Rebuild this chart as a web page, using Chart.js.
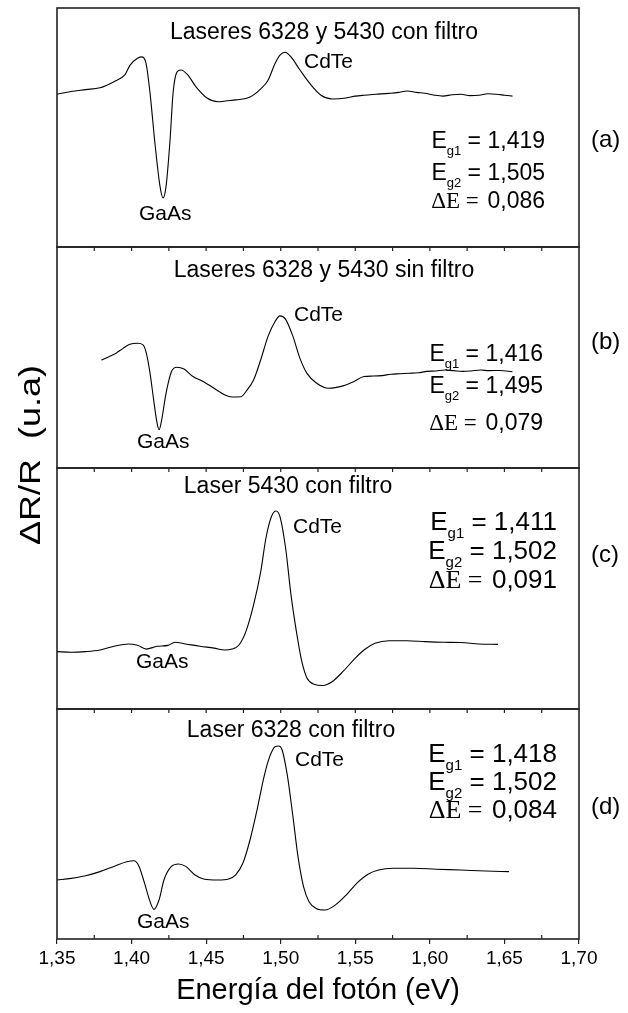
<!DOCTYPE html>
<html>
<head>
<meta charset="utf-8">
<script src="https://cdn.jsdelivr.net/npm/chart.js@4.4.1/dist/chart.umd.min.js"></script>
<style>
  html, body { margin: 0; padding: 0; background: #fff; }
  #figura { position: relative; width: 628px; height: 1013px; }
  #figura canvas { position: absolute; left: 0; top: 0; }
</style>
</head>
<body>
<div id="figura">
  <canvas id="panelA" width="628" height="1013"></canvas>
  <canvas id="panelB" width="628" height="1013"></canvas>
  <canvas id="panelC" width="628" height="1013"></canvas>
  <canvas id="panelD" width="628" height="1013"></canvas>
</div>
<script>
// Espectros de fotorreflectancia: energía (eV) y ΔR/R (u.a.)
const energiaA = [1.350, 1.3594, 1.3694, 1.3788, 1.3882, 1.3956, 1.3989, 1.4040, 1.4070, 1.4097, 1.4124, 1.4157, 1.4191, 1.4211, 1.4231, 1.4258, 1.4278, 1.4305, 1.4331, 1.4375, 1.4432, 1.4506, 1.4580, 1.4640, 1.4700, 1.4794, 1.4868, 1.4915, 1.4962, 1.4995, 1.5029, 1.5069, 1.5129, 1.5203, 1.5270, 1.5344, 1.5438, 1.5500, 1.5559, 1.5640, 1.5726, 1.5790, 1.5847, 1.5910, 1.5967, 1.6030, 1.6088, 1.6150, 1.6209, 1.6270, 1.6330, 1.6390, 1.6444, 1.6500, 1.6554];
const senalA = [0.0, 0.3, 0.5, 0.7, 1.35, 2.1, 3.1, 3.85, 4.0, 3.3, 0.1, -5.3, -9.9, -11.1, -9.9, -4.9, 0.1, 2.4, 2.6, 2.1, 0.8, -0.4, -0.8, -0.7, -0.6, -0.3, 0.6, 1.5, 3.3, 4.2, 4.5, 4.0, 2.6, 1.0, -0.1, -0.5, -0.4, -0.2, -0.1, 0.0, 0.1, 0.2, 0.35, 0.2, 0.1, -0.1, -0.2, -0.05, 0.0, -0.15, -0.1, 0.05, 0.0, -0.1, -0.2];

const energiaB = [1.3797, 1.3849, 1.3896, 1.3943, 1.3989, 1.4040, 1.4077, 1.4099, 1.4124, 1.4148, 1.4171, 1.4184, 1.4200, 1.4231, 1.4267, 1.4303, 1.4352, 1.4412, 1.4483, 1.4553, 1.4626, 1.4673, 1.4734, 1.4767, 1.4818, 1.4866, 1.4915, 1.4962, 1.4995, 1.5033, 1.5082, 1.5129, 1.5176, 1.5237, 1.5321, 1.5418, 1.5489, 1.5558, 1.5620, 1.5679, 1.5740, 1.5800, 1.5860, 1.5921, 1.5980, 1.6041, 1.6100, 1.6159, 1.6220, 1.6276, 1.6340, 1.6397, 1.6470, 1.6554];
const senalB = [1.17, 1.53, 1.9, 2.42, 2.85, 2.96, 2.8, 1.9, -0.26, -3.1, -5.6, -6.3, -5.4, -2.4, -0.08, 0.4, 0.2, -0.6, -1.15, -1.86, -2.58, -2.8, -2.76, -2.2, -0.97, 1.2, 3.7, 5.3, 5.9, 5.53, 3.7, 1.35, -0.26, -1.26, -1.86, -1.6, -1.15, -0.6, -0.55, -0.5, -0.35, -0.3, -0.25, -0.2, -0.05, 0.0, 0.1, 0.03, -0.05, 0.0, 0.1, 0.03, 0.05, -0.08];

const energiaC = [1.350, 1.3594, 1.3692, 1.3788, 1.3882, 1.3980, 1.4040, 1.4099, 1.4171, 1.4244, 1.4291, 1.4363, 1.4459, 1.4553, 1.4626, 1.4673, 1.4720, 1.4767, 1.4818, 1.4866, 1.4901, 1.4938, 1.4968, 1.4995, 1.5033, 1.5069, 1.5105, 1.5141, 1.5176, 1.5223, 1.5284, 1.5344, 1.5418, 1.5489, 1.5558, 1.5632, 1.5726, 1.5847, 1.5967, 1.6088, 1.6209, 1.6327, 1.6457];
const senalC = [-0.57, -0.64, -0.57, -0.4, 0.0, 0.25, 0.1, -0.3, 0.0, 0.1, 0.43, 0.25, 0.0, -0.2, -0.4, -0.3, 0.14, 1.6, 4.43, 8.0, 11.6, 13.9, 14.5, 13.9, 10.5, 5.5, 1.6, -1.6, -3.4, -4.07, -4.2, -3.8, -2.7, -1.46, -0.4, 0.32, 0.6, 0.6, 0.5, 0.43, 0.4, 0.25, 0.2];

const energiaD = [1.350, 1.3594, 1.3692, 1.3788, 1.3882, 1.3968, 1.4016, 1.4050, 1.4087, 1.4124, 1.4150, 1.4184, 1.4217, 1.4267, 1.4315, 1.4363, 1.4423, 1.4483, 1.4580, 1.4651, 1.4698, 1.4746, 1.4794, 1.4841, 1.4888, 1.4926, 1.4962, 1.4986, 1.5009, 1.5046, 1.5082, 1.5116, 1.5153, 1.5190, 1.5237, 1.5297, 1.5369, 1.5440, 1.5511, 1.5585, 1.5656, 1.5752, 1.5894, 1.6040, 1.6207, 1.6375, 1.6531];
const senalD = [-0.96, -0.78, -0.5, -0.06, 0.5, 1.0, 1.1, 0.5, -1.3, -3.28, -4.1, -3.1, -0.96, 0.5, 0.76, 0.5, -0.4, -0.85, -0.96, -0.85, -0.4, 0.83, 3.33, 6.54, 10.1, 12.26, 13.33, 13.4, 13.0, 10.1, 5.83, 1.54, -1.67, -3.28, -4.0, -4.17, -3.6, -2.56, -1.3, -0.35, 0.11, 0.3, 0.3, 0.2, 0.11, 0.0, -0.06];

// Eje de energía
const ticksEnergia = [1.35, 1.40, 1.45, 1.50, 1.55, 1.60, 1.65, 1.70];
const etiquetasEnergia = ['1,35', '1,40', '1,45', '1,50', '1,55', '1,60', '1,65', '1,70'];
const ticksMenores = [1.375, 1.425, 1.475, 1.525, 1.575, 1.625, 1.675];
const ticksSuperiores = ticksMenores.concat(ticksEnergia.slice(1, -1));

// Energías de transición de cada espectro
const gapsA = ['1,419', '1,505', '0,086'];
const gapsB = ['1,416', '1,495', '0,079'];
const gapsC = ['1,411', '1,502', '0,091'];
const gapsD = ['1,418', '1,502', '0,084'];

const SANS = "'Liberation Sans', Arial, sans-serif";
const SERIF = "'Liberation Serif', 'Times New Roman', serif";

function texto(ctx, t, x, y, font, align) {
  ctx.font = font;
  ctx.textAlign = align;
  ctx.textBaseline = 'alphabetic';
  ctx.fillText(t, x, y);
}

// dibuja una fila formada por trozos de texto, alineada a la derecha
function fila(ctx, partes, xDer, y) {
  let ancho = 0;
  partes.forEach(p => {
    ctx.font = p.font;
    p.w = ctx.measureText(p.t).width + (p.sep || 0);
    ancho += p.w;
  });
  ctx.textBaseline = 'alphabetic';
  ctx.textAlign = 'left';
  let x = xDer - ancho;
  partes.forEach(p => {
    ctx.font = p.font;
    ctx.fillText(p.t, x, y + (p.dy || 0));
    x += p.w;
  });
}

const marcoPanel = {
  id: 'marcoPanel',
  afterDatasetsDraw(chart, args, o) {
    const { ctx, chartArea: ca, scales: { x } } = chart;
    ctx.save();
    ctx.strokeStyle = '#222';
    ctx.lineWidth = 1.6;
    ctx.strokeRect(ca.left, ca.top, ca.right - ca.left, ca.bottom - ca.top);
    ctx.lineWidth = 1.2;
    if (o.marcasArriba) {
      ticksSuperiores.forEach(v => {
        const px = x.getPixelForValue(v);
        ctx.beginPath(); ctx.moveTo(px, ca.top); ctx.lineTo(px, ca.top + 4); ctx.stroke();
      });
    }
    if (o.marcasAbajo) {
      ticksMenores.forEach(v => {
        const px = x.getPixelForValue(v);
        ctx.beginPath(); ctx.moveTo(px, ca.bottom); ctx.lineTo(px, ca.bottom - 4); ctx.stroke();
      });
    }

    ctx.fillStyle = '#000';
    const t = ca.top;
    texto(ctx, o.titulo, o.tituloX, t + o.tituloY, '23px ' + SANS, 'center');
    texto(ctx, 'CdTe', o.cdte[0], t + o.cdte[1], '21px ' + SANS, 'left');
    texto(ctx, 'GaAs', o.gaas[0], t + o.gaas[1], '21px ' + SANS, 'left');
    texto(ctx, o.letra, 591, t + o.letraY, '24px ' + SANS, 'left');

    const fs = o.tam;
    const fMain = fs + 'px ' + SANS;
    const fSub = Math.round(fs * 0.56) + 'px ' + SANS;
    const fSerif = fs + 'px ' + SERIF;
    const bajo = Math.round(fs * 0.3);
    const g = o.gaps;
    fila(ctx, [{ t: 'E', font: fMain }, { t: 'g1', font: fSub, dy: bajo }, { t: ' = ' + g[0], font: fMain }], o.derecha, t + o.filas[0]);
    fila(ctx, [{ t: 'E', font: fMain }, { t: 'g2', font: fSub, dy: bajo }, { t: ' = ' + g[1], font: fMain }], o.derecha, t + o.filas[1]);
    fila(ctx, [{ t: '\u0394E = ', font: fSerif, sep: 3 }, { t: g[2], font: fMain }], o.derecha, t + o.filas[2]);

    if (o.tituloEjeY) {
      ctx.save();
      ctx.translate(32, 455);
      ctx.scale(0.83, 1);
      ctx.rotate(-Math.PI / 2);
      ctx.font = '36px ' + SANS;
      ctx.textAlign = 'center';
      ctx.textBaseline = 'middle';
      ctx.fillText('\u0394R/R  (u.a)', 0, 0);
      ctx.restore();
    }
    ctx.restore();
  }
};

function crearPanel(id, energia, senal, rangoY, arriba, abajo, conEje, rotulos) {
  const ejeX = {
    type: 'linear', min: 1.35, max: 1.70, display: conEje, position: 'bottom'
  };
  if (conEje) {
    Object.assign(ejeX, {
      afterBuildTicks: s => { s.ticks = ticksEnergia.map(v => ({ value: v })); },
      afterFit: s => { s.height = 74; },
      grid: { drawOnChartArea: false, drawTicks: true, tickLength: 5, color: '#222', lineWidth: 1.2 },
      border: { display: false },
      ticks: {
        color: '#000', padding: 3, maxRotation: 0, autoSkip: false,
        font: { family: SANS, size: 19 },
        callback: (v, i) => etiquetasEnergia[i]
      },
      title: {
        display: true, text: 'Energía del fotón (eV)', color: '#000',
        font: { family: SANS, size: 29 }, padding: { top: 0, bottom: 5 }
      }
    });
  }
  return new Chart(document.getElementById(id), {
    type: 'line',
    data: {
      datasets: [{
        data: energia.map((e, i) => ({ x: e, y: senal[i] })),
        borderColor: '#000',
        borderWidth: 1.1,
        pointRadius: 0,
        cubicInterpolationMode: 'monotone',
        fill: false
      }]
    },
    options: {
      responsive: false,
      animation: false,
      devicePixelRatio: 1,
      layout: { padding: { left: 57, right: 49, top: arriba, bottom: conEje ? 0 : 1013 - abajo } },
      plugins: {
        legend: { display: false },
        tooltip: { enabled: false },
        marcoPanel: rotulos
      },
      scales: {
        x: ejeX,
        y: { min: rangoY[0], max: rangoY[1], display: false }
      }
    },
    plugins: [marcoPanel]
  });
}

crearPanel('panelA', energiaA, senalA, [-16.36, 9.24], 8, 247, false, {
  titulo: 'Laseres 6328 y 5430 con filtro', tituloX: 324, tituloY: 31,
  cdte: [304, 60], gaas: [139, 212], letra: '(a)', letraY: 139,
  gaps: gapsA, tam: 23, derecha: 545, filas: [140, 172, 200]
});
crearPanel('panelB', energiaB, senalB, [-10.4, 13.28], 247, 468, false, {
  marcasArriba: true,
  titulo: 'Laseres 6328 y 5430 sin filtro', tituloX: 324, tituloY: 30,
  cdte: [294, 74], gaas: [137, 201], letra: '(b)', letraY: 102,
  gaps: gapsB, tam: 23, derecha: 543, filas: [114, 146, 183]
});
crearPanel('panelC', energiaC, senalC, [-6.72, 19.1], 468, 709, false, {
  marcasArriba: true,
  titulo: 'Laser 5430 con filtro', tituloX: 288, tituloY: 25,
  cdte: [293, 65], gaas: [136, 200], letra: '(c)', letraY: 94,
  gaps: gapsC, tam: 26, derecha: 557, filas: [62, 91, 120]
});
crearPanel('panelD', energiaD, senalD, [-7.28, 17.37], 709, 939, true, {
  marcasArriba: true, marcasAbajo: true, tituloEjeY: true,
  titulo: 'Laser 6328 con filtro', tituloX: 291, tituloY: 28,
  cdte: [295, 57], gaas: [137, 219], letra: '(d)', letraY: 105,
  gaps: gapsD, tam: 26, derecha: 557, filas: [53, 81, 109]
});
</script>
</body>
</html>
